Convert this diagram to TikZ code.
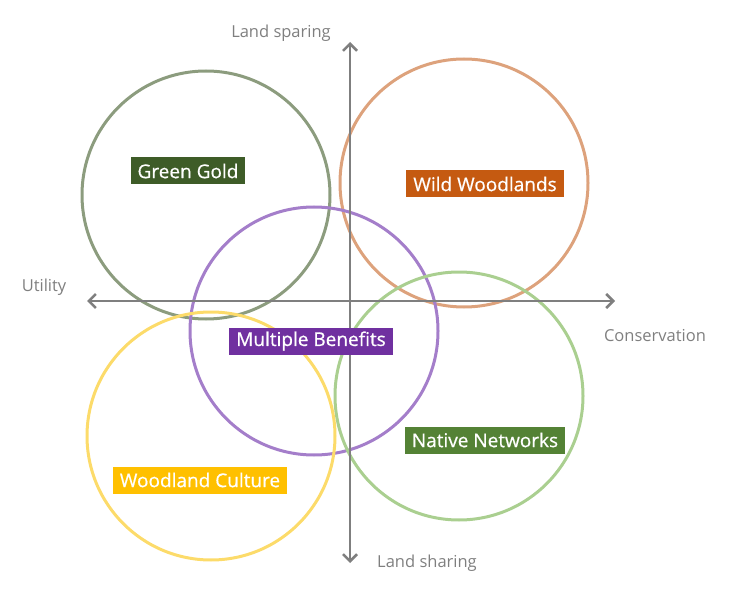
\documentclass[tikz,border=0pt]{standalone}
\usepackage{fontspec}
\setmainfont{Open Sans}
\newfontfamily\tagfont[FakeBold=0.6]{Open Sans}
\usetikzlibrary{arrows.meta}
\usetikzlibrary{positioning}
\tikzset{>={Straight Barb[length=7pt,width=14pt]}}

\definecolor{ggdark}{HTML}{3E5C28}
\definecolor{ggring}{HTML}{8C9C7E}
\definecolor{wwdark}{HTML}{C55A11}
\definecolor{wwring}{HTML}{DDA27C}
\definecolor{mbdark}{HTML}{7030A0}
\definecolor{mbring}{HTML}{A47ECA}
\definecolor{nndark}{HTML}{548235}
\definecolor{nnring}{HTML}{AACF90}
\definecolor{wcdark}{HTML}{FFC000}
\definecolor{wcring}{HTML}{FCDB6A}
\definecolor{axisgray}{HTML}{7F7F7F}

\tikzset{
    ring/.style={draw=#1, line width=3pt, circle, minimum size=248pt, inner sep=0pt},
    tag/.style={fill=#1, text=white, font=\tagfont\fontsize{19}{19}\selectfont, inner xsep=7pt, inner ysep=0pt, minimum height=27pt},
    axislabel/.style={text=axisgray, font=\fontsize{16.5}{16.5}\selectfont}
}

\begin{document}
\begin{tikzpicture}[x=1pt, y=-1pt]
            \useasboundingbox (0,0) rectangle (729,591);
            % rings
            \node [ring=ggring] (gg) at (206,195) {};
            \node [ring=wwring] (ww) at (464,183) {};
            \node [ring=mbring] (mb) at (314,331) {};
            \node [ring=nnring] (nn) at (459,396) {};
            \node [ring=wcring] (wc) at (211,436) {};
            % axes
            \coordinate (left) at (87,301);
            \coordinate (right) at (615,301);
            \coordinate (top) at (350,42);
            \coordinate (bottom) at (350,563);
            \draw [<->, axisgray, line width=2.5pt] (left)--(right);
            \draw [<->, axisgray, line width=2.5pt] (bottom)--(top);
            \node [axislabel] (sparing) at (281,33) {Land sparing};
            \node [axislabel] (sharing) at (427,563) {Land sharing};
            \node [axislabel] (utility) at (44,287) {Utility};
            \node [axislabel] (conservation) at (655,336) {Conservation};
            % tags
            \node [tag=ggdark] (gglabel) at (188,171) {Green Gold};
            \node [tag=wwdark] (wwlabel) at (485,184) {Wild Woodlands};
            \node [tag=mbdark] (mblabel) at (311,341) {Multiple Benefits};
            \node [tag=nndark] (nnlabel) at (485,440) {Native Networks};
            \node [tag=wcdark] (wclabel) at (200,480) {Woodland Culture};
        \end{tikzpicture}
\end{document}
